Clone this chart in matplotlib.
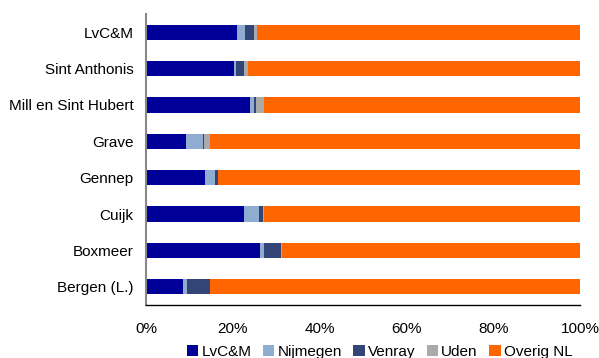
import matplotlib
matplotlib.use("Agg")
import matplotlib.pyplot as plt
import numpy as np
from matplotlib.patches import Patch

plt.rcParams['font.family'] = ['Liberation Sans', 'DejaVu Sans']

categories = ["LvC&M", "Sint Anthonis", "Mill en Sint Hubert", "Grave",
              "Gennep", "Cuijk", "Boxmeer", "Bergen (L.)"]
lvcm     = [21.0, 20.3, 24.0, 9.2, 13.6, 22.6, 26.3, 8.5]
nijmegen = [1.8, 0.4, 0.9, 3.9, 2.3, 3.4, 0.9, 0.9]
venray   = [2.1, 1.9, 0.4, 0.3, 0.7, 1.0, 3.9, 5.3]
uden     = [0.7, 0.9, 1.9, 1.3, 0.0, 0.2, 0.2, 0.0]
overig   = [74.4, 76.5, 72.8, 85.3, 83.4, 72.8, 68.7, 85.3]

series = [("LvC&M", lvcm, "#000099"),
          ("Nijmegen", nijmegen, "#8EADD0"),
          ("Venray", venray, "#334477"),
          ("Uden", uden, "#AAAAAA"),
          ("Overig NL", overig, "#FF6600")]
xticks = [0, 20, 40, 60, 80, 100]
xticklabels = ["0%", "20%", "40%", "60%", "80%", "100%"]

fig = plt.figure(figsize=(5.99, 3.58), dpi=100)
ax = fig.add_axes([146/599, 1-305/358, (580-146)/599, (305-14)/358])

y = np.arange(len(categories))
left = np.zeros(len(categories))
for name, vals, col in series:
    ax.barh(y, vals, left=left, height=0.42, color=col, label=name, linewidth=0)
    left += np.array(vals)

ax.set_xlim(0, 100)
ax.set_ylim(len(categories) - 0.5, -0.5)
ax.set_yticks(y)
ax.set_yticklabels(categories, fontsize=11)
ax.set_xticks(xticks)
ax.set_xticklabels(xticklabels, fontsize=11)
ax.tick_params(axis='y', length=0, pad=9)
ax.tick_params(axis='x', length=0, pad=12)
for s in ['top', 'right']:
    ax.spines[s].set_visible(False)
ax.spines['left'].set_color('#888888')
ax.spines['left'].set_linewidth(1.5)
ax.spines['bottom'].set_color('#000000')
ax.spines['bottom'].set_linewidth(1.0)

handles = [Patch(facecolor=c, label=n) for n, _, c in series]
fig.legend(handles=handles, loc='center', bbox_to_anchor=(0.634, 1-352/358),
           ncol=5, frameon=False, fontsize=11, handlelength=0.75, handleheight=0.75,
           handletextpad=0.2, columnspacing=0.75)

fig.savefig("out.png", dpi=100)
